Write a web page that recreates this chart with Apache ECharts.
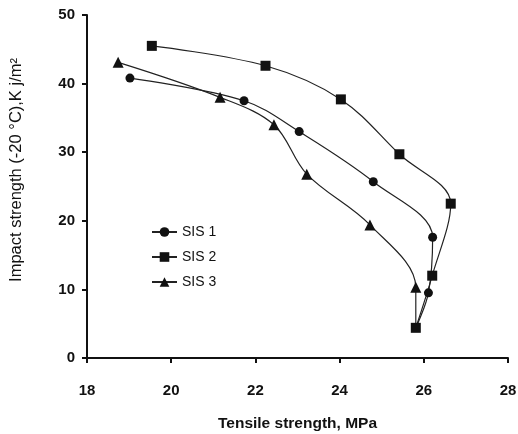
<!DOCTYPE html>
<html>
<head>
<meta charset="utf-8">
<script src="https://cdn.jsdelivr.net/npm/echarts@6/dist/echarts.min.js"></script>
<style>html,body{margin:0;padding:0;background:#fff}#c{width:518px;height:434px}</style>
</head>
<body>
<div id="c"></div>
<script>
var xTicks = [18, 20, 22, 24, 26, 28];
var yTicks = [0, 10, 20, 30, 40, 50];
var seriesNames = ['SIS 1', 'SIS 2', 'SIS 3'];
var sis1X = [19.02, 21.73, 23.04, 24.80, 26.21, 26.11, 25.81];
var sis1Y = [40.8, 37.5, 33.0, 25.7, 17.6, 9.5, 4.4];
var sis2X = [19.54, 22.24, 24.03, 25.42, 26.64, 26.20, 25.81];
var sis2Y = [45.5, 42.6, 37.7, 29.7, 22.5, 12.0, 4.4];
var sis3X = [18.74, 21.16, 22.44, 23.22, 24.72, 25.81, 25.81];
var sis3Y = [43.1, 38.0, 34.0, 26.8, 19.4, 10.3, 4.4];
var symbols = ['circle', 'rect', 'triangle'];
var yTitle = 'Impact strength (-20 °C),K j/m²';
var xTitle = 'Tensile strength, MPa';

function zip(xs, ys, hideLast) {
  return xs.map(function (x, i) {
    var item = { value: [x, ys[i]] };
    if (hideLast && i === xs.length - 1) item.symbol = 'none';
    return item;
  });
}
var allData = [zip(sis1X, sis1Y, true), zip(sis2X, sis2Y, false), zip(sis3X, sis3Y, true)];
var sizes = [9, 10, 11];
var FONT = 'Liberation Sans, Arial, sans-serif';

var chart = echarts.init(document.getElementById('c'));
chart.setOption({
  animation: false,
  backgroundColor: '#fff',
  grid: { left: 87, right: 10, top: 15, bottom: 76, containLabel: false, outerBoundsMode: 'none' },
  legend: {
    orient: 'vertical', left: 146, top: 220, itemGap: 11,
    itemWidth: 25, itemHeight: 12,
    textStyle: { fontFamily: FONT, fontSize: 14, color: '#111', padding: [0, 0, 0, 0] },
    data: seriesNames
  },
  graphic: [{
    type: 'text', x: 16, y: 170, rotation: Math.PI / 2,
    style: { text: yTitle, fontFamily: FONT, fontSize: 16.5, fill: '#111', align: 'center', verticalAlign: 'middle' }
  }],
  xAxis: {
    type: 'value', min: 18, max: 28, interval: 2,
    name: xTitle, nameLocation: 'middle', nameGap: 58,
    nameTextStyle: { fontFamily: FONT, fontWeight: 'bold', fontSize: 15.5, color: '#111' },
    axisLine: { lineStyle: { color: '#111', width: 2 } },
    axisTick: { length: 5, lineStyle: { color: '#111', width: 2 } },
    axisLabel: { fontFamily: FONT, fontWeight: 'bold', fontSize: 15, color: '#111', margin: 25,
      formatter: function (v) { return xTicks.indexOf(v) >= 0 ? String(v) : ''; } },
    splitLine: { show: false }
  },
  yAxis: {
    type: 'value', min: 0, max: 50, interval: 10,
    axisLine: { lineStyle: { color: '#111', width: 2 } },
    axisTick: { length: 5, lineStyle: { color: '#111', width: 2 } },
    axisLabel: { fontFamily: FONT, fontWeight: 'bold', fontSize: 15, color: '#111', margin: 12,
      formatter: function (v) { return yTicks.indexOf(v) >= 0 ? String(v) : ''; } },
    splitLine: { show: false }
  },
  series: seriesNames.map(function (n, i) {
    return {
      name: n, type: 'line', smooth: 0.35,
      symbol: symbols[i], symbolSize: sizes[i],
      itemStyle: { color: '#111' },
      lineStyle: { color: '#222', width: 1.2 },
      data: allData[i]
    };
  })
});
</script>
</body>
</html>
